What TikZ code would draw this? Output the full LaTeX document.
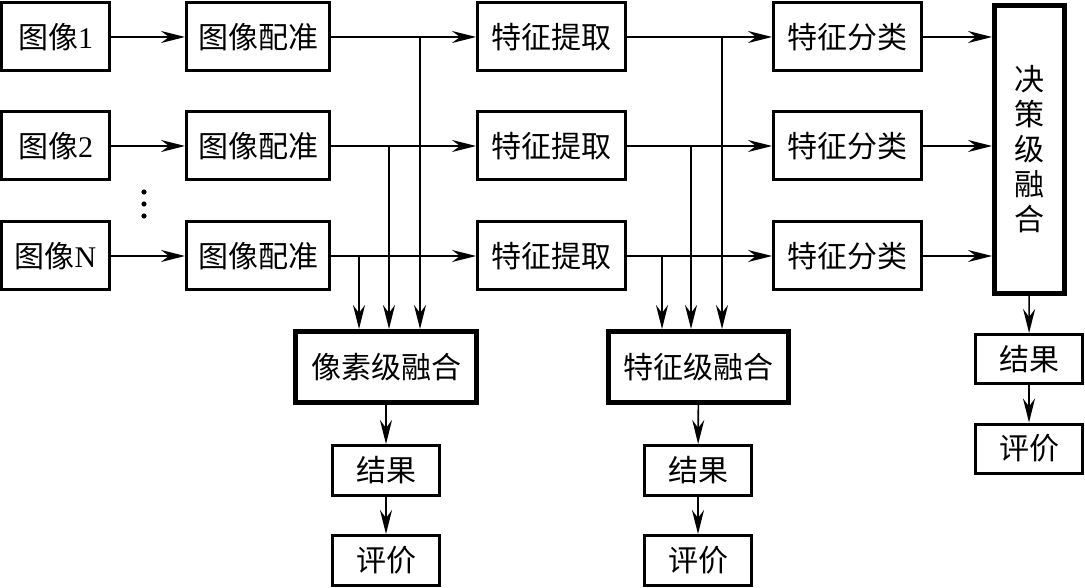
\documentclass[tikz,border=0pt]{standalone}
\usepackage{fontspec}
\setmainfont{Liberation Serif}
\newfontfamily\cjk{Noto Sans CJK SC}
\usetikzlibrary{arrows.meta}
\tikzset{box/.style = {draw, line width=3pt, inner sep=0pt,
                       font=\fontsize{30}{35}\selectfont\cjk},
         fusebox/.style = {box, line width=5pt},
         imgbox/.style = {box, minimum width=108pt, minimum height=68pt},
         stepbox/.style = {box, minimum width=148pt, minimum height=68pt},
         smallbox/.style = {box, minimum width=107pt, minimum height=50pt},
         arr/.style = {line width=1.6pt,
                       -{Stealth[length=24pt, width=12pt, inset=8pt]}}}

\begin{document}
\begin{tikzpicture}[x=1pt, y=-1pt]
    \useasboundingbox (0, 0) rectangle (1085, 588);
    \node [fusebox, minimum width=70pt, minimum height=288pt, align=center] (dec) at (1029.5, 149.5) {决\\策\\级\\融\\合};
    \foreach \i/\y/\n in {1/37/1, 2/146/2, 3/256/N} {
      \node [imgbox] (img\i) at (55.5, \y) {图像{\rmfamily\n}};
      \node [stepbox, minimum width=143pt] (reg\i) at (258, \y) {图像配准};
      \node [stepbox] (feat\i) at (551.5, \y) {特征提取};
      \node [stepbox] (cls\i) at (847.5, \y) {特征分类};
      \draw [arr] (img\i) -- (reg\i);
      \draw [arr] (reg\i) -- (feat\i);
      \draw [arr] (feat\i) -- (cls\i);
      \draw [arr] (cls\i) -- (cls\i -| dec.west);
    }
    \foreach \y in {192, 204, 216}
      \fill (144, \y) circle (2.6pt);
    % fusion at pixel and feature level
    \node [fusebox, minimum width=181pt, minimum height=71pt] (pix) at (386, 367) {像素级融合};
    \node [fusebox, minimum width=180pt, minimum height=71pt] (ftf) at (698.5, 367) {特征级融合};
    \foreach \i/\dx in {1/34, 2/3, 3/-27}
      \draw [arr] ([xshift=\dx pt]pix.north |- reg\i.east) -- ([xshift=\dx pt]pix.north);
    \foreach \i/\dx in {1/23.5, 2/-7.5, 3/-36.5}
      \draw [arr] ([xshift=\dx pt]ftf.north |- feat\i.east) -- ([xshift=\dx pt]ftf.north);
    \node [smallbox] (res1) at (386, 470.5) {结果};
    \node [smallbox] (eva1) at (386, 560.5) {评价};
    \node [smallbox] (res2) at (698, 470.5) {结果};
    \node [smallbox] (eva2) at (698, 560.5) {评价};
    \node [smallbox, minimum height=49pt] (res3) at (1029, 359) {结果};
    \node [smallbox, minimum height=49pt] (eva3) at (1029, 448.5) {评价};
    \draw [arr] (pix) -- (res1);
    \draw [arr] (res1) -- (eva1);
    \draw [arr] (ftf) -- (res2);
    \draw [arr] (res2) -- (eva2);
    \draw [arr] (dec) -- (res3);
    \draw [arr] (res3) -- (eva3);
  \end{tikzpicture}
\end{document}
